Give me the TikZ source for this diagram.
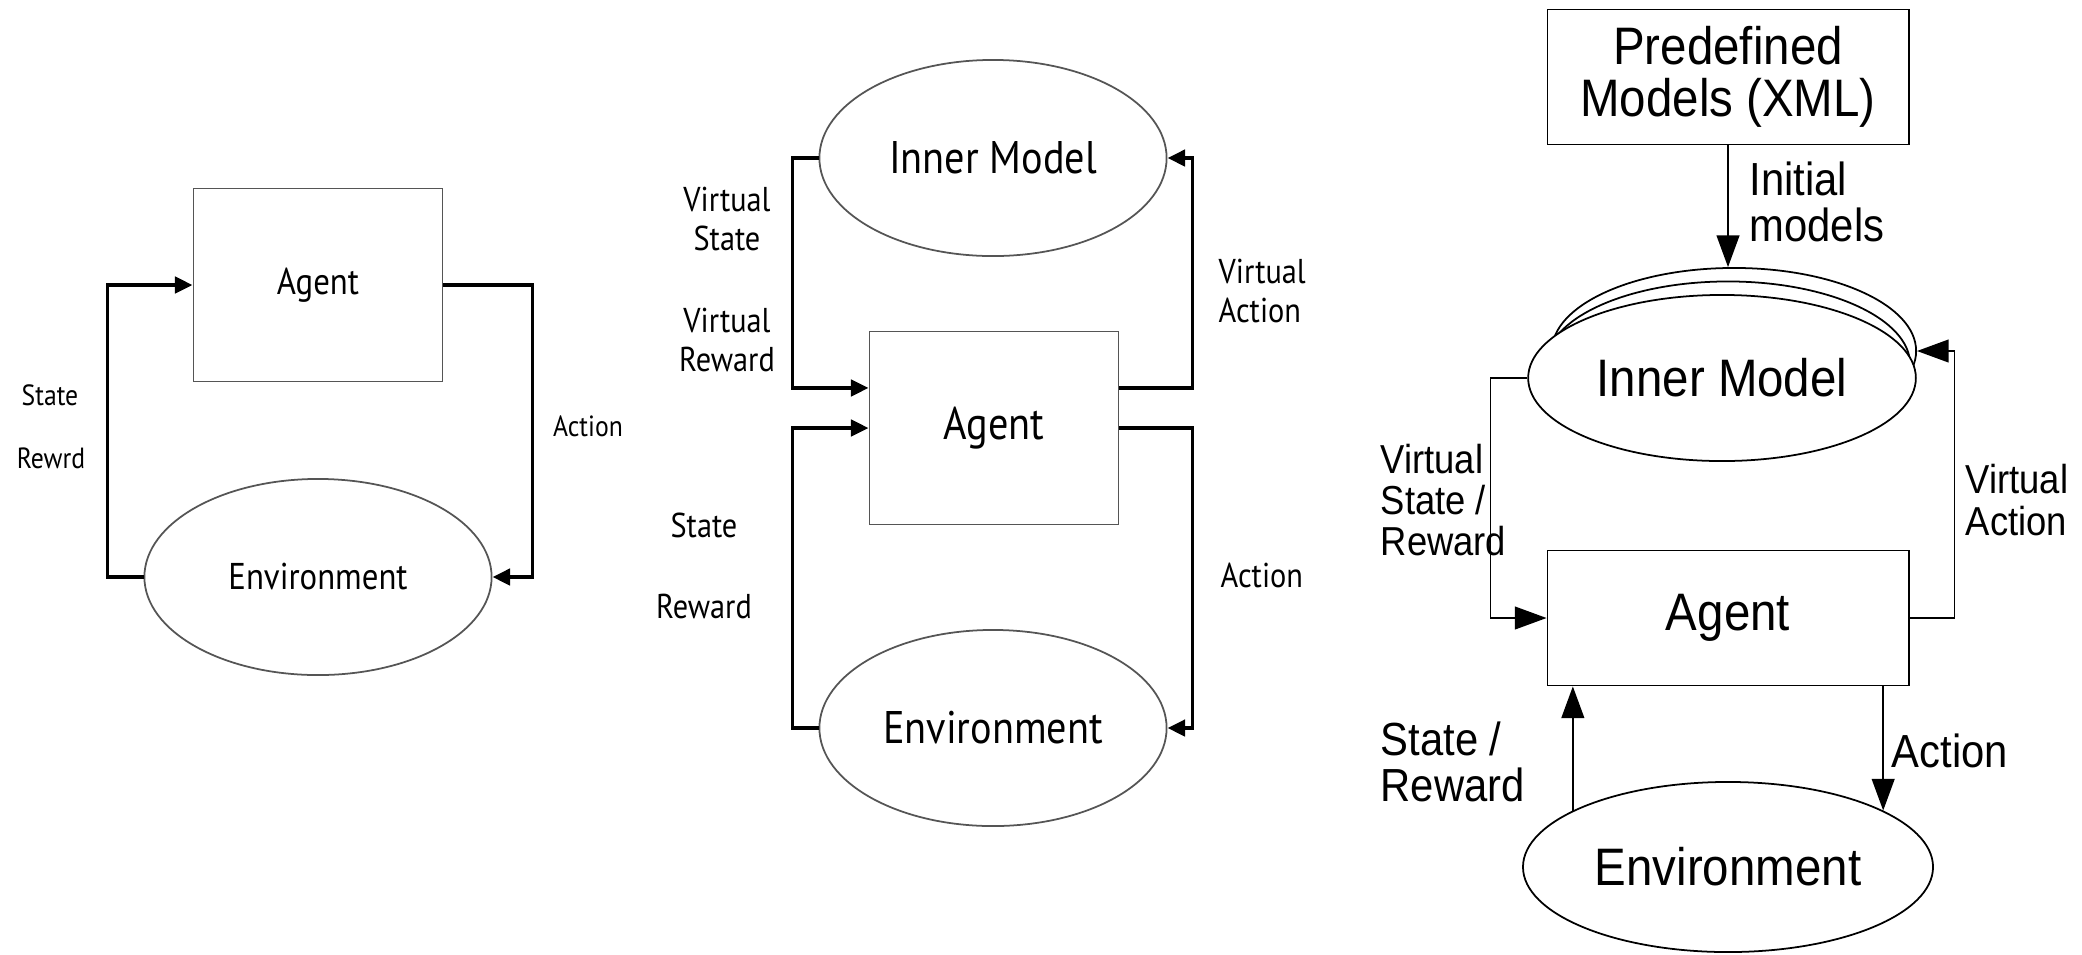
\documentclass[tikz,border=0pt]{standalone}
\usepackage{fontspec}
\usepackage{tikz}
\usetikzlibrary{arrows.meta,shapes.geometric}
\newfontfamily\humanfont[FakeStretch=0.88]{PT Sans}
\newfontfamily\narrowfont[FakeStretch=0.9]{Liberation Sans}
\definecolor{edgegray}{RGB}{85,85,85}

\begin{document}
\begin{tikzpicture}[x=0.01cm,y=-0.01cm,
  oldbox/.style={draw=edgegray,line width=0.5pt,minimum width=2.49cm,minimum height=1.93cm},
  oldblob/.style={ellipse,draw=edgegray,line width=0.5pt,minimum width=3.47cm,minimum height=1.96cm},
  oldloop/.style={line width=1.1pt,-{Triangle[length=5pt,width=4.6pt]}},
  newbox/.style={draw,line width=0.5pt,minimum width=3.61cm,minimum height=1.35cm,font=\narrowfont\fontsize{15}{14.8}\selectfont,align=center},
  newblob/.style={ellipse,draw,line width=0.5pt,fill=white,minimum width=3.64cm,minimum height=1.66cm,font=\narrowfont\fontsize{15}{18}\selectfont},
  newflow/.style={line width=0.4pt,-{Triangle[length=9pt,width=6.5pt]}},
  lblone/.style={font=\humanfont\fontsize{8.3}{10}\selectfont,inner sep=0pt},
  lbltwo/.style={font=\humanfont\fontsize{9.8}{11.2}\selectfont,inner sep=0pt},
  lblthree/.style={font=\narrowfont\fontsize{13.2}{13}\selectfont,align=left,anchor=west,inner sep=0pt},
  lblvirt/.style={lblthree,font=\narrowfont\fontsize{11.5}{11.7}\selectfont}]
\useasboundingbox (0,0) rectangle (2082,954);

% (1) plain loop
\node[oldbox,font=\humanfont\fontsize{10.6}{12}\selectfont] (agentL) at (318,285) {Agent};
\node[oldblob,font=\humanfont\fontsize{10.6}{12}\selectfont] (envL) at (318,577) {Environment};
\draw[oldloop] (envL.west) -- ++(-36,0) |- (agentL.west);
\draw[oldloop] (agentL.east) -- ++(89,0) |- (envL.east);
\node[lblone] (stateL) at (50,395) {State};
\node[lblone] (rewardL) at (51,458) {Rewrd};
\node[lblone] (actionL) at (588,426) {Action};

% (2) loop with an inner model
\node[oldblob,font=\humanfont\fontsize{13}{15}\selectfont] (innerM) at (993,158) {Inner Model};
\node[oldbox,font=\humanfont\fontsize{13}{15}\selectfont] (agentM) at (994,428) {Agent};
\node[oldblob,font=\humanfont\fontsize{13}{15}\selectfont] (envM) at (993,728) {Environment};
\draw[oldloop] (innerM.west) -- ++(-26,0) |- ([yshift=4mm]agentM.west);
\draw[oldloop] ([yshift=4mm]agentM.east) -- ++(73,0) |- (innerM.east);
\draw[oldloop] (envM.west) -- ++(-26,0) |- (agentM.west);
\draw[oldloop] (agentM.east) -- ++(73,0) |- (envM.east);
\node[lbltwo,align=center] (vstateM) at (727,219) {Virtual\\State};
\node[lbltwo,align=center] (vrewardM) at (727,340) {Virtual\\Reward};
\node[lbltwo,align=left,anchor=west] (vactionM) at (1218,291) {Virtual\\Action};
\node[lbltwo] (stateM) at (704,525) {State};
\node[lbltwo] (rewardM) at (704,606) {Reward};
\node[lbltwo,anchor=west] (actionM) at (1220,575) {Action};

% (3) with predefined models
\node[newbox] (predef) at (1728,77) {Predefined\\Models (XML)};
\node[newblob] (imBack) at (1734,351) {};
\node[newblob] (imMid) at (1728,364.5) {};
\node[newblob] (imFront) at (1722,378) {Inner Model};
\node[newbox] (agentR) at (1728,618) {Agent};
\node[newblob,minimum width=3.61cm,minimum height=1.70cm] (envR) at (1728,867) {Environment};
\draw[newflow] (predef.south) -- (predef.south |- imBack.north);
\draw[newflow] (imFront.west) -- ++(-37,0) |- (agentR.west);
\draw[newflow] (agentR.east) -- ++(45,0) |- (imBack.east);
\draw[newflow] (envR.160) -- (envR.160 |- agentR.south);
\draw[newflow] (agentR.south -| envR.20) -- (envR.20);
\node[lblthree] (initR) at (1749,202) {Initial\\models};
\node[lblvirt] (vsrR) at (1380,500) {Virtual\\State /\\Reward};
\node[lblvirt] (vaR) at (1965,500) {Virtual\\Action};
\node[lblthree] (srR) at (1380,762) {State /\\Reward};
\node[lblthree] (actR) at (1891,751) {Action};
\end{tikzpicture}
\end{document}
